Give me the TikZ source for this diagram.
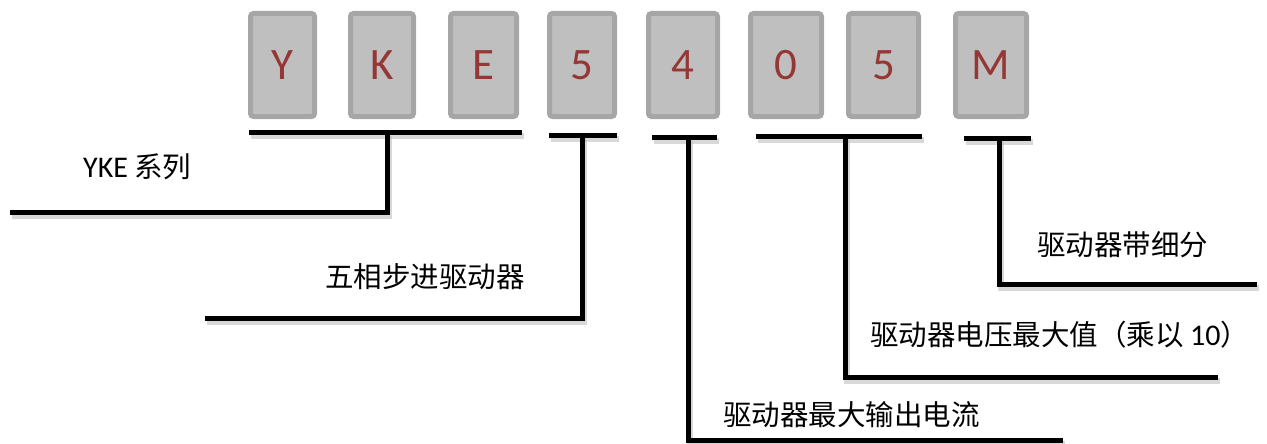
\documentclass[tikz,border=0pt]{standalone}
\usepackage{fontspec}
\setmainfont{Carlito}
\newfontfamily\cjk{Noto Sans CJK SC}
\newfontfamily\lat{Carlito}
\definecolor{boxfill}{RGB}{191,191,191}
\definecolor{boxedge}{RGB}{166,166,166}
\definecolor{letter}{RGB}{149,55,53}
\tikzset{
  codebox/.style={draw=boxedge, fill=boxfill, line width=5pt, rounded corners=3pt,
    minimum height=103pt, inner sep=0pt, text=letter, font=\lat\fontsize{45}{50}\selectfont},
  leader/.style={line width=5pt, black, miter limit=10,
    preaction={draw=black!30, line width=6pt, opacity=0.5, transform canvas={shift={(2pt,-4pt)}}}},
  label/.style={anchor=west, inner sep=0pt, font=\cjk\fontsize{28.5}{34}\selectfont, text=black}
}
\begin{document}
\begin{tikzpicture}[x=1pt,y=-1pt]
\useasboundingbox (0,0) rectangle (1267,444);
% boxes
\node[codebox, minimum width=64pt] (bY) at (282.5,65) {Y};
\node[codebox, minimum width=63pt] (bK) at (382,65) {K};
\node[codebox, minimum width=66pt] (bE) at (483.5,65) {E};
\node[codebox, minimum width=65pt] (b5) at (582,65) {5};
\node[codebox, minimum width=69pt] (b4) at (683,65) {4};
\node[codebox, minimum width=71pt] (b0) at (786,65) {0};
\node[codebox, minimum width=70pt] (b5b) at (883.5,65) {5};
\node[codebox, minimum width=71pt] (bM) at (991,65) {M};
% coordinates of leaders
\coordinate (a1) at (249,132); \coordinate (a2) at (522,132);
\coordinate (am) at (387,132); \coordinate (ac) at (387,212); \coordinate (ae) at (10,212);
\coordinate (c1) at (549,135); \coordinate (c2) at (617,135);
\coordinate (cm) at (582,135); \coordinate (cc) at (582,318); \coordinate (ce) at (205,318);
\coordinate (d1) at (652,137); \coordinate (d2) at (717,137);
\coordinate (dm) at (688,137); \coordinate (dc) at (688,440); \coordinate (de) at (1063,440);
\coordinate (e1) at (756,136); \coordinate (e2) at (922,136);
\coordinate (em) at (845,136); \coordinate (ec) at (845,377); \coordinate (ee) at (1218,377);
\coordinate (f1) at (964,138); \coordinate (f2) at (1031,138);
\coordinate (fm) at (999,138); \coordinate (fc) at (999,284); \coordinate (fe) at (1257,284);
% leaders
\draw[leader] (a1) -- (a2);
\draw[leader] (am) -- (ac) -- (ae);
\draw[leader] (c1) -- (c2);
\draw[leader] (cm) -- (cc) -- (ce);
\draw[leader] (d1) -- (d2);
\draw[leader] (dm) -- (dc) -- (de);
\draw[leader] (e1) -- (e2);
\draw[leader] (em) -- (ec) -- (ee);
\draw[leader] (f1) -- (f2);
\draw[leader] (fm) -- (fc) -- (fe);
% labels
\node[label] (t1) at (83,167) {{\lat\fontsize{30}{34}\selectfont YKE} 系列};
\node[label] (t2) at (325,277) {五相步进驱动器};
\node[label] (t3) at (723,415) {驱动器最大输出电流};
\node[label] (t4) at (870,335) {驱动器电压最大值（乘以 {\lat\fontsize{30}{34}\selectfont 10}）};
\node[label] (t5) at (1037,245) {驱动器带细分};
\end{tikzpicture}
\end{document}
